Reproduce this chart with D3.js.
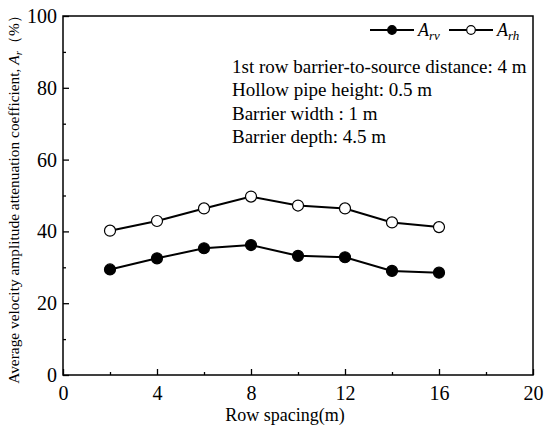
<!DOCTYPE html>
<html>
<head>
<meta charset="utf-8">
<script src="https://cdn.jsdelivr.net/npm/d3@7"></script>
<style>
  body { margin: 0; background: #fff; }
  text { font-family: "Liberation Serif", "Times New Roman", serif; fill: #000; }
</style>
</head>
<body>
<svg></svg>
<script>
const width = 550;
const height = 436;
const margin = {top: 16, right: 16, bottom: 61, left: 63};

// values
const rowSpacing = [2, 4, 6, 8, 10, 12, 14, 16];
const arv = [29.4, 32.5, 35.3, 36.2, 33.2, 32.8, 29.0, 28.5];
const arh = [40.2, 42.9, 46.4, 49.7, 47.2, 46.4, 42.5, 41.2];
const xTicks = [0, 4, 8, 12, 16, 20];
const yTicks = [0, 20, 40, 60, 80, 100];
const notes = [
    '1st row barrier-to-source distance: 4 m',
    'Hollow pipe height: 0.5 m',
    'Barrier width : 1 m',
    'Barrier depth: 4.5 m'
];

const svg = d3.select('svg')
    .attr('width', width)
    .attr('height', height);

const xScale = d3.scaleLinear()
    .domain([0, 20])
    .range([margin.left, width - margin.right - 1]);

const yScale = d3.scaleLinear()
    .domain([0, 100])
    .range([height - margin.bottom, margin.top]);

// minor ticks first, inward
svg.append('g')
    .attr('transform', 'translate(0,' + (height - margin.bottom) + ')')
    .call(d3.axisBottom(xScale).tickValues(d3.range(2, 20, 4)).tickSize(-3).tickFormat(''))
    .call(g => g.select('.domain').remove());
svg.append('g')
    .attr('transform', 'translate(' + margin.left + ',0)')
    .call(d3.axisLeft(yScale).tickValues(d3.range(10, 100, 20)).tickSize(-3).tickFormat(''))
    .call(g => g.select('.domain').remove());

const xAxis = svg.append('g')
    .attr('transform', 'translate(0,' + (height - margin.bottom) + ')')
    .call(d3.axisBottom(xScale).tickValues(xTicks).tickSize(-6).tickSizeOuter(0).tickPadding(11));
xAxis.select('.domain').remove();
xAxis.selectAll('text').style('font-size', '20px');

const yAxis = svg.append('g')
    .attr('transform', 'translate(' + margin.left + ',0)')
    .call(d3.axisLeft(yScale).tickValues(yTicks).tickSize(-6).tickSizeOuter(0).tickPadding(6));
yAxis.select('.domain').remove();
yAxis.selectAll('text').style('font-size', '20px');

svg.selectAll('.tick line').attr('stroke-width', 1.3);

// frame
svg.append('rect')
    .attr('x', xScale(0))
    .attr('y', yScale(100))
    .attr('width', xScale(20) - xScale(0))
    .attr('height', yScale(0) - yScale(100))
    .attr('fill', 'none')
    .attr('stroke', '#000')
    .attr('stroke-width', 1.5);

const line = d3.line()
    .x((d, i) => xScale(rowSpacing[i]))
    .y(d => yScale(d));

const series = [
    {values: arv, fill: '#000'},
    {values: arh, fill: '#fff'}
];

series.forEach(s => {
    svg.append('path')
        .datum(s.values)
        .attr('d', line)
        .attr('fill', 'none')
        .attr('stroke', '#000')
        .attr('stroke-width', 2);
    svg.append('g')
        .selectAll('circle')
        .data(s.values)
        .enter()
        .append('circle')
        .attr('cx', (d, i) => xScale(rowSpacing[i]))
        .attr('cy', d => yScale(d))
        .attr('r', 5.5)
        .attr('fill', s.fill)
        .attr('stroke', '#000')
        .attr('stroke-width', 1.2);
});

// legend
const legend = [
    {x: 370, fill: '#000', sub: 'rv'},
    {x: 449, fill: '#fff', sub: 'rh'}
];
legend.forEach(l => {
    svg.append('line')
        .attr('x1', l.x).attr('x2', l.x + 44)
        .attr('y1', 30).attr('y2', 30)
        .attr('stroke', '#000')
        .attr('stroke-width', 2);
    svg.append('circle')
        .attr('cx', l.x + 22).attr('cy', 30).attr('r', 4.3)
        .attr('fill', l.fill)
        .attr('stroke', '#000')
        .attr('stroke-width', 1.2);
    const t = svg.append('text')
        .attr('x', l.x + 48).attr('y', 36)
        .style('font-size', '18px')
        .style('font-style', 'italic');
    t.append('tspan').text('A');
    t.append('tspan').attr('dy', 4).style('font-size', '13px').text(l.sub);
});

// notes
svg.append('g')
    .selectAll('text')
    .data(notes)
    .enter()
    .append('text')
    .attr('x', 232)
    .attr('y', (d, i) => 73 + i * 23.4)
    .style('font-size', '19px')
    .text(d => d);

svg.append('text')
    .attr('x', (xScale(0) + xScale(20)) / 2 - 13)
    .attr('y', 421)
    .style('text-anchor', 'middle')
    .style('font-size', '18px')
    .text('Row spacing(m)');

const yLabel = svg.append('text')
    .attr('transform', 'rotate(-90)')
    .attr('x', -196)
    .attr('y', 19)
    .style('text-anchor', 'middle')
    .style('font-size', '15.4px');
yLabel.append('tspan').text('Average velocity amplitude attenuation coefficient,  ');
yLabel.append('tspan').style('font-style', 'italic').text('A');
yLabel.append('tspan').attr('dy', 3).style('font-size', '11px').style('font-style', 'italic').text('r');
yLabel.append('tspan').attr('dy', -3).text('（%）');
</script>
</body>
</html>
